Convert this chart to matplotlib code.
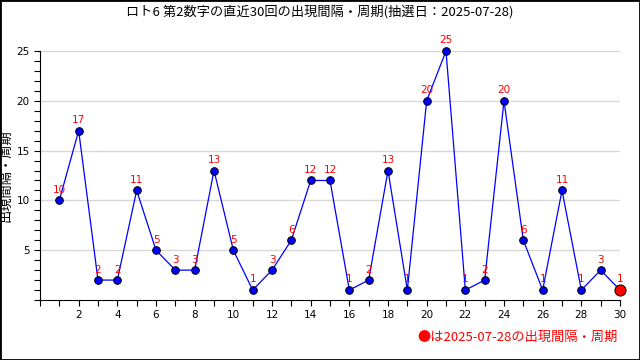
import matplotlib
matplotlib.use("Agg")
import matplotlib.pyplot as plt
from matplotlib.patches import Rectangle
from matplotlib.ticker import MultipleLocator

plt.rcParams["font.family"] = ["Noto Sans CJK JP", "DejaVu Sans"]

draws = list(range(1, 31))
intervals = [10, 17, 2, 2, 11, 5, 3, 3, 13, 5, 1, 3, 6, 12, 12,
             1, 2, 13, 1, 20, 25, 1, 2, 20, 6, 1, 11, 1, 3, 1]
title = "ロト6 第2数字の直近30回の出現間隔・周期(抽選日：2025-07-28)"
y_label = "出現間隔・周期"
note = "●は2025-07-28の出現間隔・周期"

fig = plt.figure(figsize=(6.4, 3.6), dpi=100)
ax = fig.add_axes([40 / 640, 60 / 360, 580 / 640, 249 / 360])

ax.plot(draws, intervals, "-", color="#0000ff", linewidth=0.9, zorder=2)
ax.plot(draws[:-1], intervals[:-1], "o", color="#0000ff", markeredgecolor="black",
        markeredgewidth=0.7, markersize=5.5, zorder=3, clip_on=False)
ax.plot(draws[-1], intervals[-1], "o", color="#ff0000", markeredgecolor="black",
        markeredgewidth=0.7, markersize=8, zorder=4, clip_on=False)

for x, y in zip(draws, intervals):
    ax.annotate(str(y), (x, y), xytext=(0, 4), textcoords="offset points",
                ha="center", va="bottom", color="#ff0000", fontsize=7.5,
                family="DejaVu Sans")

ax.set_xlim(0, 30)
ax.set_ylim(0, 25)
ax.xaxis.set_minor_locator(MultipleLocator(1))
ax.yaxis.set_minor_locator(MultipleLocator(1))
ax.set_xticks(range(2, 31, 2))
ax.set_yticks(range(5, 26, 5))
ax.tick_params(which="both", direction="out", length=4, width=0.8, labelsize=7.5)
for lab in ax.get_xticklabels() + ax.get_yticklabels():
    lab.set_family("DejaVu Sans")
ax.grid(True, axis="y", which="major", color="#d8d8d8", linewidth=1)
ax.set_axisbelow(True)
for side in ("top", "right"):
    ax.spines[side].set_visible(False)
ax.set_ylabel(y_label, fontsize=9.5)
ax.yaxis.set_label_coords(-0.047, 0.5)

fig.text(0.5, 1 - 12 / 360, title, ha="center", va="center", fontsize=9.5)
fig.text(618 / 640, 1 - 337 / 360, note, ha="right", va="center", fontsize=9.5,
         color="#ff0000")

fig.patches.append(Rectangle((0, 0), 1, 1, transform=fig.transFigure, fill=False,
                             edgecolor="black", linewidth=2))

fig.savefig("out.png", dpi=100)
